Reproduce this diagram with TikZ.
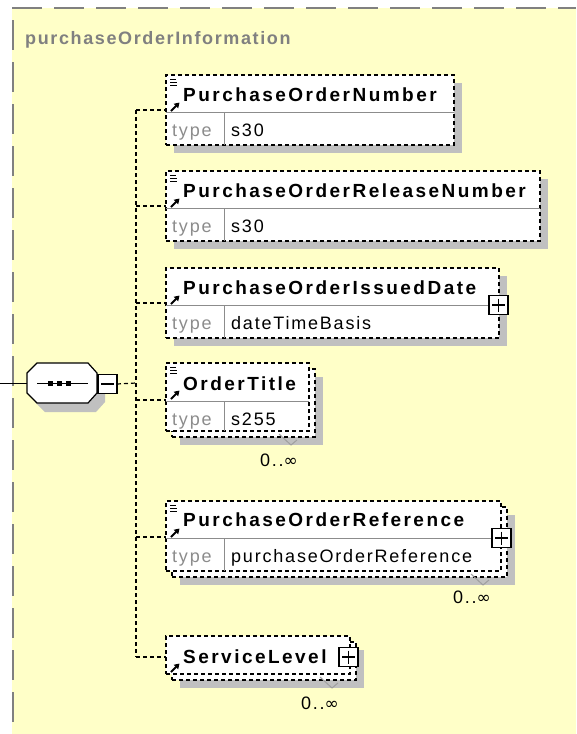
\documentclass[tikz,border=0pt]{standalone}
\usepackage{fontspec}
\setmainfont{Liberation Sans}
\newfontfamily\namefont[LetterSpace=13]{Liberation Sans}
\newfontfamily\valfont[LetterSpace=10]{Liberation Sans}
\newfontfamily\ttlfont[LetterSpace=9]{Liberation Sans}
\newfontfamily\symfont{DejaVu Sans}
\usetikzlibrary{arrows.meta,shadows}
\definecolor{bgyellow}{RGB}{255,255,200}
\definecolor{shgray}{RGB}{192,192,192}
\definecolor{brdgray}{RGB}{128,128,128}
\definecolor{divgray}{RGB}{140,140,140}
\definecolor{typegray}{RGB}{140,140,140}
\newcommand\refarrow[2]{\draw[line width=1.8pt,-{Triangle[length=5pt,width=6pt]}] (#1+5,#2+36) -- (#1+13.5,#2+27.5);}
\newcommand\simpleicon[2]{\draw[line width=1.1pt] (#1+4,#2+4.3) -- (#1+10,#2+4.3) (#1+4,#2+7.3) -- (#1+11,#2+7.3) (#1+4,#2+10.3) -- (#1+11,#2+10.3);}
\newcommand\notchmark[2]{\draw[gray!75, line width=1pt] (#1-36,#2-3) -- (#1-24,#2+8) -- (#1-18,#2+3);}
\newcommand\infsym{{\symfont\fontsize{17}{20}\selectfont ∞}}
\begin{document}
\begin{tikzpicture}[x=1pt,y=-1pt,
 ebox/.style={draw=black, line width=1.2pt, dash pattern=on 4pt off 3pt, fill=white, inner sep=0, outer sep=0, anchor=north west},
 shd/.style={drop shadow={shadow xshift=8pt, shadow yshift=-8pt, fill=shgray, opacity=1}},
 conn/.style={draw=black, line width=1.2pt, dash pattern=on 4pt off 3pt},
 divl/.style={draw=divgray, line width=1pt},
 nametxt/.style={anchor=base west, inner sep=0, font=\namefont\bfseries\fontsize{19}{22}\selectfont},
 typetxt/.style={anchor=base west, inner sep=0, text=typegray, font=\valfont\fontsize{18}{21}\selectfont},
 valtxt/.style={anchor=base west, inner sep=0, font=\valfont\fontsize{18}{21}\selectfont},
 multtxt/.style={anchor=base east, inner sep=0, font=\valfont\fontsize{18}{21}\selectfont},
 pm/.style={draw=black, line width=1.8pt, fill=white, minimum width=19pt, minimum height=19pt, inner sep=0, outer sep=0},
 pmline/.style={line width=1.2pt}
]
\useasboundingbox (0,0) rectangle (576,734);
% group background
\fill[bgyellow] (12,8) rectangle (576,734);
\draw[brdgray, line width=2pt, dash pattern=on 30pt off 12pt] (12,8) -- (576,8);
\draw[brdgray, line width=2pt, dash pattern=on 30pt off 12pt, dash phase=30pt] (13,8) -- (13,734);
\node[anchor=base west, inner sep=0, text=brdgray, font=\ttlfont\bfseries\fontsize{18}{21}\selectfont] (ttl) at (25,44) {purchaseOrderInformation};

% junctions
\coordinate (j1) at (136,110);
\coordinate (j2) at (136,206);
\coordinate (j3) at (136,303);
\coordinate (j4) at (136,400);
\coordinate (jc) at (136,383);
\coordinate (j5) at (136,537);
\coordinate (j6) at (136,657);
\coordinate (lin) at (0,383);

% sequence compositor
\node[minimum width=70pt, minimum height=40pt, inner sep=0, outer sep=0] (seq) at (62,383) {};
\fill[shgray, shift={(8,9)}] (27,373) -- (37,363) -- (88,363) -- (97,373) -- (97,393) -- (88,403) -- (37,403) -- (27,393) -- cycle;
\draw[line width=1pt] (lin) -- (seq.west);
\draw[line width=1.2pt, fill=white] (27,373) -- (37,363) -- (88,363) -- (97,373) -- (97,393) -- (88,403) -- (37,403) -- (27,393) -- cycle;
\draw[line width=1.5pt] (37,383.5) -- (88,383.5);
\fill (48,381) rectangle (53,386);
\fill (57,381) rectangle (62,386);
\fill (65.5,381) rectangle (70.5,386);
\node[pm] (mn) at (107.5,384) {};
\draw[pmline] ([xshift=3pt]mn.west) -- ([xshift=-3pt]mn.east);

% trunk
\draw[conn] (mn.east) -- (jc);
\draw[conn] (j1) -- (j6);

% box 1
\node[ebox, shd, minimum width=288pt, minimum height=70pt] (b1) at (166,75) {};
\draw[divl] ([yshift=-37pt]b1.north west) -- ([yshift=-37pt]b1.north east);
\draw[divl] ([xshift=58pt,yshift=-37pt]b1.north west) -- ([xshift=58pt]b1.south west);
\node[nametxt] (n1) at (183,101) {PurchaseOrderNumber};
\node[typetxt] (t1) at (172,136) {type};
\node[valtxt] (v1) at (231,136) {s30};
\simpleicon{166}{75}
\refarrow{166}{75}
\draw[conn] (j1) -- (j1 -| b1.west);

% box 2
\node[ebox, shd, minimum width=374pt, minimum height=70pt] (b2) at (166,171) {};
\draw[divl] ([yshift=-37pt]b2.north west) -- ([yshift=-37pt]b2.north east);
\draw[divl] ([xshift=58pt,yshift=-37pt]b2.north west) -- ([xshift=58pt]b2.south west);
\node[nametxt] (n2) at (183,197) {PurchaseOrderReleaseNumber};
\node[typetxt] (t2) at (172,232) {type};
\node[valtxt] (v2) at (231,232) {s30};
\simpleicon{166}{171}
\refarrow{166}{171}
\draw[conn] (j2) -- (j2 -| b2.west);

% box 3
\node[ebox, shd, minimum width=333pt, minimum height=70pt] (b3) at (166,268) {};
\draw[divl] ([yshift=-37pt]b3.north west) -- ([yshift=-37pt]b3.north east);
\draw[divl] ([xshift=58pt,yshift=-37pt]b3.north west) -- ([xshift=58pt]b3.south west);
\node[nametxt] (n3) at (183,294) {PurchaseOrderIssuedDate};
\node[typetxt] (t3) at (172,329) {type};
\node[valtxt] (v3) at (231,329) {dateTimeBasis};
\refarrow{166}{268}
\draw[conn] (j3) -- (j3 -| b3.west);
\node[pm] (p3) at (498.5,305) {};
\draw[pmline] ([xshift=3pt]p3.west) -- ([xshift=-3pt]p3.east);
\draw[pmline] ([yshift=-3pt]p3.north) -- ([yshift=3pt]p3.south);

% box 4 (repeated)
\node[ebox, shd, minimum width=143pt, minimum height=68pt] (k4) at (172,369) {};
\node[ebox, minimum width=143pt, minimum height=68pt] (b4) at (166,363) {};
\draw[divl] ([yshift=-38pt]b4.north west) -- ([yshift=-38pt]b4.north east);
\draw[divl] ([xshift=58pt,yshift=-38pt]b4.north west) -- ([xshift=58pt]b4.south west);
\node[nametxt] (n4) at (183,390) {OrderTitle};
\node[typetxt] (t4) at (172,425) {type};
\node[valtxt] (v4) at (231,425) {s255};
\simpleicon{166}{363}
\refarrow{166}{363}
\draw[conn] (j4) -- (j4 -| b4.west);
\notchmark{315}{437}
\node[multtxt] (m4) at (298,466) {0..\infsym};

% box 5 (repeated)
\node[ebox, shd, minimum width=335pt, minimum height=70pt] (k5) at (172,507) {};
\node[ebox, minimum width=335pt, minimum height=70pt] (b5) at (166,501) {};
\draw[divl] ([yshift=-37pt]b5.north west) -- ([yshift=-37pt]b5.north east);
\draw[divl] ([xshift=58pt,yshift=-37pt]b5.north west) -- ([xshift=58pt]b5.south west);
\node[nametxt] (n5) at (183,526) {PurchaseOrderReference};
\node[typetxt] (t5) at (172,562) {type};
\node[valtxt] (v5) at (231,562) {purchaseOrderReference};
\simpleicon{166}{501}
\refarrow{166}{501}
\draw[conn] (j5) -- (j5 -| b5.west);
\node[pm] (p5) at (501.5,538) {};
\draw[pmline] ([xshift=3pt]p5.west) -- ([xshift=-3pt]p5.east);
\draw[pmline] ([yshift=-3pt]p5.north) -- ([yshift=3pt]p5.south);
\notchmark{507}{577}
\node[multtxt] (m5) at (491,603) {0..\infsym};

% box 6 (repeated)
\node[ebox, shd, minimum width=184pt, minimum height=38pt] (k6) at (172,642) {};
\node[ebox, minimum width=184pt, minimum height=38pt] (b6) at (166,636) {};
\node[nametxt] (n6) at (183,663) {ServiceLevel};
\refarrow{166}{636}
\draw[conn] (j6) -- (j6 -| b6.west);
\node[pm] (p6) at (348.5,657) {};
\draw[pmline] ([xshift=3pt]p6.west) -- ([xshift=-3pt]p6.east);
\draw[pmline] ([yshift=-3pt]p6.north) -- ([yshift=3pt]p6.south);
\notchmark{356}{680}
\node[multtxt] (m6) at (339,709) {0..\infsym};
\end{tikzpicture}
\end{document}
